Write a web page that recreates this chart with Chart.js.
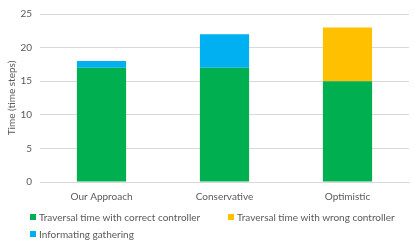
<!DOCTYPE html>
<html>
<head>
<meta charset="utf-8">
<script src="https://cdn.jsdelivr.net/npm/chart.js@4.4.1/dist/chart.umd.min.js"></script>
<style>
	html, body { margin: 0; padding: 0; background: #fff; }
	#wrap { position: relative; width: 415px; height: 242px; }
	#legend { position: absolute; left: 30px; top: 211px; width: 385px; font-family: Lato, sans-serif; font-size: 10px; color: #595959; }
	.item { position: absolute; white-space: nowrap; display: flex; align-items: center; }
	.box { display: inline-block; width: 6px; height: 6px; margin-right: 3px; }
</style>
</head>
<body>
<div id="wrap">
	<canvas id="chart" width="415" height="242"></canvas>
	<div id="legend"></div>
</div>
<script>
const categories = ["Our Approach", "Conservative", "Optimistic"];
const correctTimes = [17, 17, 15];
const wrongTimes = [0, 0, 8];
const infoTimes = [1, 5, 0];
const seriesNames = [
	"Traversal time with correct controller",
	"Traversal time with wrong controller",
	"Informating gathering",
];
const seriesColors = ["#00B050", "#FFC000", "#00B0F0"];
const yTicks = [0, 5, 10, 15, 20, 25];

document.addEventListener("DOMContentLoaded", () => {
	const ctx = document.getElementById("chart");
	const font = { family: "Lato, sans-serif", size: 10 };
	const values = [correctTimes, wrongTimes, infoTimes];

	new Chart(ctx, {
		type: "bar",
		data: {
			labels: categories,
			datasets: values.map((v, i) => ({
				label: seriesNames[i],
				data: v,
				backgroundColor: seriesColors[i],
				borderWidth: 0,
				categoryPercentage: 1,
				barPercentage: 0.4,
			})),
		},
		options: {
			responsive: false,
			animation: false,
			layout: { padding: { top: 9, right: 6, left: 0, bottom: 0 } },
			plugins: { legend: { display: false }, tooltip: { enabled: false } },
			scales: {
				x: {
					stacked: true,
					grid: { display: false },
					border: { color: "#d9d9d9" },
					ticks: { color: "#595959", font: font, padding: 1 },
					afterFit: (s) => { s.height = 60; },
				},
				y: {
					stacked: true,
					min: 0,
					max: 25,
					afterBuildTicks: (s) => { s.ticks = yTicks.map((v) => ({ value: v })); },
					grid: { color: "#d9d9d9", drawTicks: false },
					border: { display: false },
					ticks: { color: "#595959", font: font, padding: 8 },
					title: { display: true, text: "Time (time steps)", color: "#595959", font: font, padding: { top: 6, bottom: 2 } },
					afterFit: (s) => { s.width = 40; },
				},
			},
		},
	});

	// legend laid out like the original (two columns, left aligned)
	const legend = document.getElementById("legend");
	const spots = [[0, 0], [198, 0], [0, 17]];
	seriesNames.forEach((name, i) => {
		const el = document.createElement("div");
		el.className = "item";
		el.style.left = spots[i][0] + "px";
		el.style.top = spots[i][1] + "px";
		el.innerHTML = `<span class="box" style="background:${seriesColors[i]}"></span>${name}`;
		legend.appendChild(el);
	});
});
</script>
</body>
</html>
